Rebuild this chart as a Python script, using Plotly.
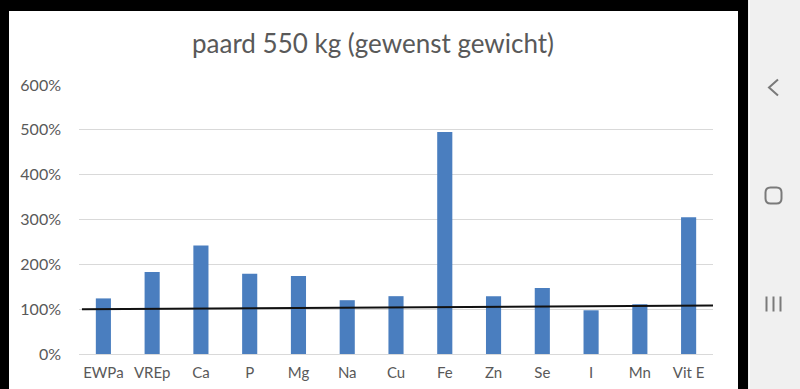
import plotly.graph_objects as go

categories = ["EWPa", "VREp", "Ca", "P", "Mg", "Na", "Cu", "Fe", "Zn", "Se", "I", "Mn", "Vit E"]
values = [1.24, 1.83, 2.42, 1.79, 1.74, 1.20, 1.29, 4.95, 1.29, 1.47, 0.975, 1.11, 3.05]
ytick_vals = [0, 1, 2, 3, 4, 5, 6]
ytick_text = ["0%", "100%", "200%", "300%", "400%", "500%", "600%"]
# reference line (hand-drawn norm line), positions in category units
norm_x = [-0.44, 12.66]
norm_y = [1.00, 1.08]

W, H = 800, 389
L, R, T, B = 79, 713, 85, 354  # plot area in pixels


def px(x):
    return (x - L) / (R - L)


def py(y):
    return (B - y) / (B - T)


fig = go.Figure()
fig.add_trace(go.Bar(x=list(range(len(categories))), y=values, marker_color="#4a7ebf",
                     marker_line_width=0, showlegend=False, hoverinfo="skip"))
fig.add_trace(go.Scatter(x=norm_x, y=norm_y, mode="lines", xaxis="x2",
                         line=dict(color="#111111", width=2), cliponaxis=False,
                         showlegend=False, hoverinfo="skip"))

shapes = [
    # white chart background
    dict(type="rect", xref="paper", yref="paper", x0=px(9), x1=px(738), y0=py(11), y1=py(400),
         fillcolor="white", line_width=0, layer="below"),
    # left black edge
    dict(type="rect", xref="paper", yref="paper", x0=px(-5), x1=px(8.5), y0=py(-5), y1=py(400),
         fillcolor="black", line_width=0, layer="below"),
    # nav bar
    dict(type="rect", xref="paper", yref="paper", x0=px(748), x1=px(805), y0=py(-5), y1=py(400),
         fillcolor="#f0f0f0", line_width=0, layer="below"),
    dict(type="line", xref="paper", yref="paper", x0=px(749.5), x1=px(749.5), y0=py(-5), y1=py(400),
         line=dict(color="#fafafa", width=1), layer="below"),
]
icon = dict(color="#7a7a7a", width=2)
# back chevron
shapes.append(dict(type="path", xref="paper", yref="paper",
                   path=f"M {px(778)} {py(79.5)} L {px(769)} {py(87.5)} L {px(778)} {py(95.5)}",
                   line=icon))
# home rounded square
x0, x1, y0, y1, r = 765.5, 781.5, 187.5, 203.5, 5
p = (f"M {px(x0+r)} {py(y0)} L {px(x1-r)} {py(y0)} Q {px(x1)} {py(y0)} {px(x1)} {py(y0+r)} "
     f"L {px(x1)} {py(y1-r)} Q {px(x1)} {py(y1)} {px(x1-r)} {py(y1)} "
     f"L {px(x0+r)} {py(y1)} Q {px(x0)} {py(y1)} {px(x0)} {py(y1-r)} "
     f"L {px(x0)} {py(y0+r)} Q {px(x0)} {py(y0)} {px(x0+r)} {py(y0)} Z")
shapes.append(dict(type="path", xref="paper", yref="paper", path=p, line=icon))
# recent apps bars
for xx in (766.5, 773.5, 780.5):
    shapes.append(dict(type="line", xref="paper", yref="paper", x0=px(xx), x1=px(xx),
                       y0=py(296.5), y1=py(311.5), line=icon))

font_fam = "Lato, 'Open Sans', sans-serif"
fig.update_layout(
    width=W, height=H,
    margin=dict(l=L, r=W - R, t=T, b=H - B, autoexpand=False),
    paper_bgcolor="black",
    plot_bgcolor="rgba(0,0,0,0)",
    bargap=0.69,
    shapes=shapes,
    hovermode=False,
    title=dict(text="paard 550 kg (gewenst gewicht)", xref="paper", x=px(373), xanchor="center",
               yref="container", y=1 - 44 / H, yanchor="middle",
               font=dict(family=font_fam, size=26, color="#595959")),
    xaxis=dict(range=[-0.5, len(categories) - 0.5], tickmode="array",
               tickvals=list(range(len(categories))), ticktext=categories,
               showgrid=False, zeroline=False, showline=False, ticks="",
               ticklabelstandoff=8,
               tickfont=dict(family=font_fam, size=15, color="#595959")),
    xaxis2=dict(range=[-0.5, len(categories) - 0.5], overlaying="x", visible=False),
    yaxis=dict(range=[0, 6], tickmode="array", tickvals=ytick_vals, ticktext=ytick_text,
               showgrid=True, gridcolor="#d9d9d9", gridwidth=1.2, zeroline=True,
               zerolinecolor="#d9d9d9", zerolinewidth=1.2, showline=False, ticks="",
               ticklabelstandoff=17,
               tickfont=dict(family=font_fam, size=16, color="#595959")),
)

fig.write_html("out.html", config={"displayModeBar": False},
               post_script="document.body.style.margin='0';document.body.style.overflow='hidden';")
